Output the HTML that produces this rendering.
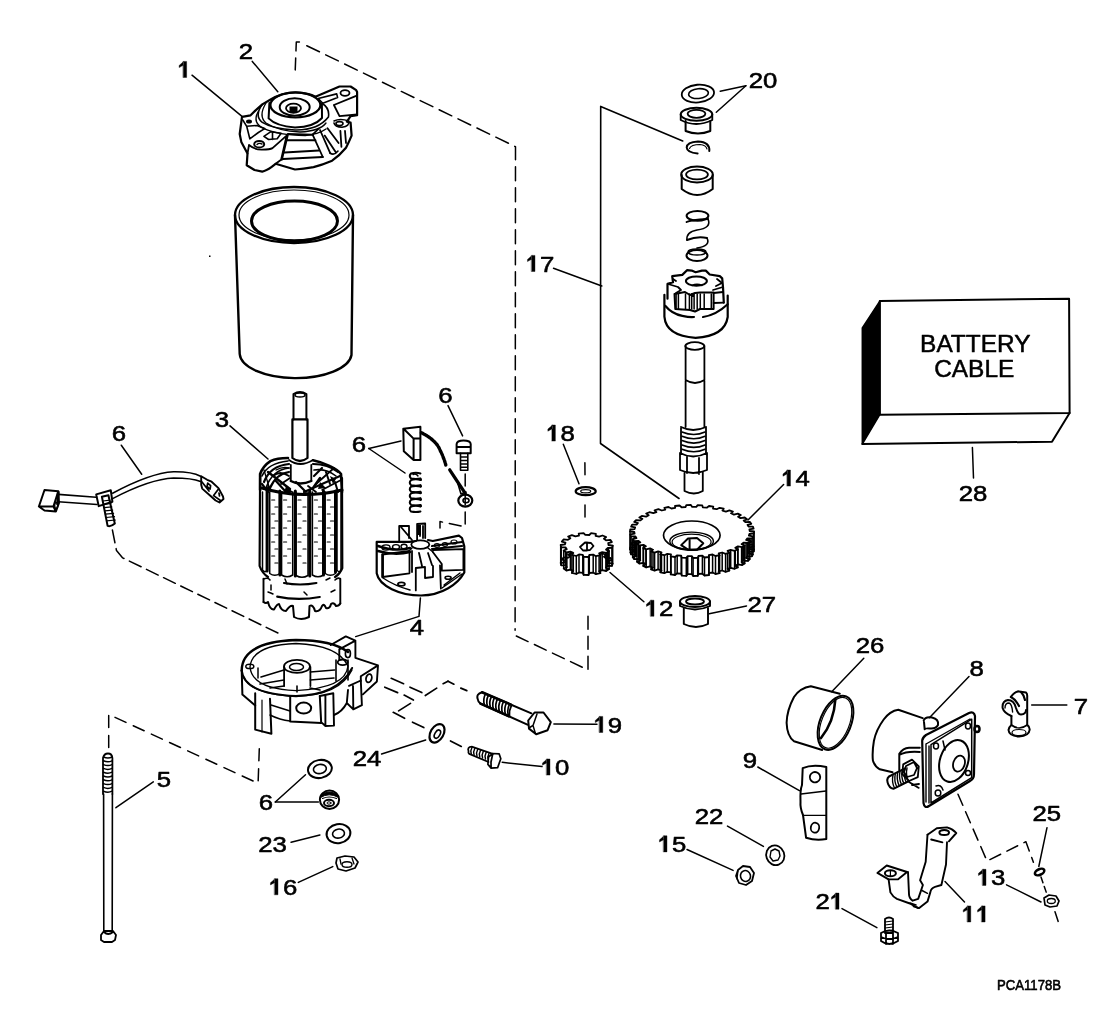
<!DOCTYPE html>
<html><head><meta charset="utf-8"><style>
html,body{margin:0;padding:0;background:#fff;width:1114px;height:1024px;overflow:hidden}
svg{position:absolute;left:0;top:0;font-family:"Liberation Sans",sans-serif;will-change:transform}
</style></head><body>
<svg width="1114" height="1024" viewBox="0 0 1114 1024">
<rect width="1114" height="1024" fill="#fff"/>
<g stroke="#000" fill="none" stroke-linecap="round" stroke-linejoin="round">
<g transform="translate(184.5,78) scale(1.12,1)"><path d="M-1.09,-16.6 L1.91,-16.6 L1.91,-0.5 L-1.09,-0.5 Z M-0.79,-16.4 L-4.79,-12.6 L-4.79,-10.4 L-0.79,-12.9 Z" fill="#000" stroke="#000" stroke-width="0.36"/></g>
<g transform="translate(246,59) scale(1.12,1)"><text x="-6.39" y="-0.5" font-size="23" stroke="#000" stroke-width="0.6" fill="#000">2</text></g>
<g transform="translate(540,272) scale(1.12,1)"><path d="M-7.49,-16.6 L-4.49,-16.6 L-4.49,-0.5 L-7.49,-0.5 Z M-7.19,-16.4 L-11.19,-12.6 L-11.19,-10.4 L-7.19,-12.9 Z" fill="#000" stroke="#000" stroke-width="0.36"/><text x="0.00" y="-0.5" font-size="23" stroke="#000" stroke-width="0.6" fill="#000">7</text></g>
<g transform="translate(763,88.6) scale(1.12,1)"><text x="-12.79" y="-0.5" font-size="23" stroke="#000" stroke-width="0.6" fill="#000">2</text><text x="0.00" y="-0.5" font-size="23" stroke="#000" stroke-width="0.6" fill="#000">0</text></g>
<g transform="translate(795.5,486.6) scale(1.12,1)"><path d="M-7.49,-16.6 L-4.49,-16.6 L-4.49,-0.5 L-7.49,-0.5 Z M-7.19,-16.4 L-11.19,-12.6 L-11.19,-10.4 L-7.19,-12.9 Z" fill="#000" stroke="#000" stroke-width="0.36"/><text x="0.00" y="-0.5" font-size="23" stroke="#000" stroke-width="0.6" fill="#000">4</text></g>
<g transform="translate(560.4,441.6) scale(1.12,1)"><path d="M-7.49,-16.6 L-4.49,-16.6 L-4.49,-0.5 L-7.49,-0.5 Z M-7.19,-16.4 L-11.19,-12.6 L-11.19,-10.4 L-7.19,-12.9 Z" fill="#000" stroke="#000" stroke-width="0.36"/><text x="0.00" y="-0.5" font-size="23" stroke="#000" stroke-width="0.6" fill="#000">8</text></g>
<g transform="translate(659,616.8) scale(1.12,1)"><path d="M-7.49,-16.6 L-4.49,-16.6 L-4.49,-0.5 L-7.49,-0.5 Z M-7.19,-16.4 L-11.19,-12.6 L-11.19,-10.4 L-7.19,-12.9 Z" fill="#000" stroke="#000" stroke-width="0.36"/><text x="0.00" y="-0.5" font-size="23" stroke="#000" stroke-width="0.6" fill="#000">2</text></g>
<g transform="translate(761.7,612.2) scale(1.12,1)"><text x="-12.79" y="-0.5" font-size="23" stroke="#000" stroke-width="0.6" fill="#000">2</text><text x="0.00" y="-0.5" font-size="23" stroke="#000" stroke-width="0.6" fill="#000">7</text></g>
<g transform="translate(973,501.4) scale(1.12,1)"><text x="-12.79" y="-0.5" font-size="23" stroke="#000" stroke-width="0.6" fill="#000">2</text><text x="0.00" y="-0.5" font-size="23" stroke="#000" stroke-width="0.6" fill="#000">8</text></g>
<g transform="translate(870,653.6) scale(1.12,1)"><text x="-12.79" y="-0.5" font-size="23" stroke="#000" stroke-width="0.6" fill="#000">2</text><text x="0.00" y="-0.5" font-size="23" stroke="#000" stroke-width="0.6" fill="#000">6</text></g>
<g transform="translate(976.7,676.5) scale(1.12,1)"><text x="-6.39" y="-0.5" font-size="23" stroke="#000" stroke-width="0.6" fill="#000">8</text></g>
<g transform="translate(1081,714) scale(1.12,1)"><text x="-6.39" y="-0.5" font-size="23" stroke="#000" stroke-width="0.6" fill="#000">7</text></g>
<g transform="translate(750,768.2) scale(1.12,1)"><text x="-6.39" y="-0.5" font-size="23" stroke="#000" stroke-width="0.6" fill="#000">9</text></g>
<g transform="translate(709,824.3) scale(1.12,1)"><text x="-12.79" y="-0.5" font-size="23" stroke="#000" stroke-width="0.6" fill="#000">2</text><text x="0.00" y="-0.5" font-size="23" stroke="#000" stroke-width="0.6" fill="#000">2</text></g>
<g transform="translate(672,852.4) scale(1.12,1)"><path d="M-7.49,-16.6 L-4.49,-16.6 L-4.49,-0.5 L-7.49,-0.5 Z M-7.19,-16.4 L-11.19,-12.6 L-11.19,-10.4 L-7.19,-12.9 Z" fill="#000" stroke="#000" stroke-width="0.36"/><text x="0.00" y="-0.5" font-size="23" stroke="#000" stroke-width="0.6" fill="#000">5</text></g>
<g transform="translate(829.7,909.7) scale(1.12,1)"><text x="-12.79" y="-0.5" font-size="23" stroke="#000" stroke-width="0.6" fill="#000">2</text><path d="M5.30,-16.6 L8.30,-16.6 L8.30,-0.5 L5.30,-0.5 Z M5.60,-16.4 L1.60,-12.6 L1.60,-10.4 L5.60,-12.9 Z" fill="#000" stroke="#000" stroke-width="0.36"/></g>
<g transform="translate(1046.8,821.2) scale(1.12,1)"><text x="-12.79" y="-0.5" font-size="23" stroke="#000" stroke-width="0.6" fill="#000">2</text><text x="0.00" y="-0.5" font-size="23" stroke="#000" stroke-width="0.6" fill="#000">5</text></g>
<g transform="translate(991,885.9) scale(1.12,1)"><path d="M-7.49,-16.6 L-4.49,-16.6 L-4.49,-0.5 L-7.49,-0.5 Z M-7.19,-16.4 L-11.19,-12.6 L-11.19,-10.4 L-7.19,-12.9 Z" fill="#000" stroke="#000" stroke-width="0.36"/><text x="0.00" y="-0.5" font-size="23" stroke="#000" stroke-width="0.6" fill="#000">3</text></g>
<g transform="translate(975.8,922.5) scale(1.12,1)"><path d="M-7.49,-16.6 L-4.49,-16.6 L-4.49,-0.5 L-7.49,-0.5 Z M-7.19,-16.4 L-11.19,-12.6 L-11.19,-10.4 L-7.19,-12.9 Z" fill="#000" stroke="#000" stroke-width="0.36"/><path d="M5.30,-16.6 L8.30,-16.6 L8.30,-0.5 L5.30,-0.5 Z M5.60,-16.4 L1.60,-12.6 L1.60,-10.4 L5.60,-12.9 Z" fill="#000" stroke="#000" stroke-width="0.36"/></g>
<g transform="translate(119,441) scale(1.12,1)"><text x="-6.39" y="-0.5" font-size="23" stroke="#000" stroke-width="0.6" fill="#000">6</text></g>
<g transform="translate(222,427) scale(1.12,1)"><text x="-6.39" y="-0.5" font-size="23" stroke="#000" stroke-width="0.6" fill="#000">3</text></g>
<g transform="translate(359,452.3) scale(1.12,1)"><text x="-6.39" y="-0.5" font-size="23" stroke="#000" stroke-width="0.6" fill="#000">6</text></g>
<g transform="translate(445.4,403) scale(1.12,1)"><text x="-6.39" y="-0.5" font-size="23" stroke="#000" stroke-width="0.6" fill="#000">6</text></g>
<g transform="translate(417,635) scale(1.12,1)"><text x="-6.39" y="-0.5" font-size="23" stroke="#000" stroke-width="0.6" fill="#000">4</text></g>
<g transform="translate(367,766) scale(1.12,1)"><text x="-12.79" y="-0.5" font-size="23" stroke="#000" stroke-width="0.6" fill="#000">2</text><text x="0.00" y="-0.5" font-size="23" stroke="#000" stroke-width="0.6" fill="#000">4</text></g>
<g transform="translate(607.8,733) scale(1.12,1)"><path d="M-7.49,-16.6 L-4.49,-16.6 L-4.49,-0.5 L-7.49,-0.5 Z M-7.19,-16.4 L-11.19,-12.6 L-11.19,-10.4 L-7.19,-12.9 Z" fill="#000" stroke="#000" stroke-width="0.36"/><text x="0.00" y="-0.5" font-size="23" stroke="#000" stroke-width="0.6" fill="#000">9</text></g>
<g transform="translate(555,775.6) scale(1.12,1)"><path d="M-7.49,-16.6 L-4.49,-16.6 L-4.49,-0.5 L-7.49,-0.5 Z M-7.19,-16.4 L-11.19,-12.6 L-11.19,-10.4 L-7.19,-12.9 Z" fill="#000" stroke="#000" stroke-width="0.36"/><text x="0.00" y="-0.5" font-size="23" stroke="#000" stroke-width="0.6" fill="#000">0</text></g>
<g transform="translate(164,787.6) scale(1.12,1)"><text x="-6.39" y="-0.5" font-size="23" stroke="#000" stroke-width="0.6" fill="#000">5</text></g>
<g transform="translate(266,810.6) scale(1.12,1)"><text x="-6.39" y="-0.5" font-size="23" stroke="#000" stroke-width="0.6" fill="#000">6</text></g>
<g transform="translate(272.5,852.3) scale(1.12,1)"><text x="-12.79" y="-0.5" font-size="23" stroke="#000" stroke-width="0.6" fill="#000">2</text><text x="0.00" y="-0.5" font-size="23" stroke="#000" stroke-width="0.6" fill="#000">3</text></g>
<g transform="translate(283,895.3) scale(1.12,1)"><path d="M-7.49,-16.6 L-4.49,-16.6 L-4.49,-0.5 L-7.49,-0.5 Z M-7.19,-16.4 L-11.19,-12.6 L-11.19,-10.4 L-7.19,-12.9 Z" fill="#000" stroke="#000" stroke-width="0.36"/><text x="0.00" y="-0.5" font-size="23" stroke="#000" stroke-width="0.6" fill="#000">6</text></g>
<text x="997" y="989.8" font-size="14.5" stroke="#000" stroke-width="0.6" fill="#000" textLength="64" lengthAdjust="spacingAndGlyphs">PCA1178B</text>
<line x1="192" y1="75.2" x2="242.3" y2="116.7" stroke-width="1.5"/>
<line x1="252.3" y1="61.4" x2="277.8" y2="91.8" stroke-width="1.5"/>
<line x1="553.5" y1="268.3" x2="601.8" y2="286" stroke-width="1.5"/>
<line x1="745.9" y1="85.7" x2="720.2" y2="91.2" stroke-width="1.5"/>
<line x1="745.9" y1="85.7" x2="716.3" y2="112.3" stroke-width="1.5"/>
<line x1="783.6" y1="484.5" x2="748" y2="520" stroke-width="1.5"/>
<line x1="563.3" y1="444.3" x2="579" y2="483.8" stroke-width="1.5"/>
<line x1="610" y1="572.5" x2="643.9" y2="601.7" stroke-width="1.5"/>
<line x1="746.5" y1="605.9" x2="709.2" y2="613.8" stroke-width="1.5"/>
<line x1="972.4" y1="447.5" x2="973.5" y2="478" stroke-width="1.5"/>
<line x1="863.8" y1="658.2" x2="831.7" y2="691.7" stroke-width="1.5"/>
<line x1="969" y1="676.5" x2="929.4" y2="717.7" stroke-width="1.5"/>
<line x1="1066.8" y1="704.9" x2="1031.7" y2="704.9" stroke-width="1.5"/>
<line x1="757.8" y1="767" x2="799.4" y2="790.6" stroke-width="1.5"/>
<line x1="727.5" y1="826.1" x2="763.4" y2="846.4" stroke-width="1.5"/>
<line x1="687" y1="849.5" x2="733.1" y2="870.4" stroke-width="1.5"/>
<line x1="842" y1="908.6" x2="876.9" y2="927.7" stroke-width="1.5"/>
<line x1="1047" y1="827.7" x2="1038.8" y2="866.5" stroke-width="1.5"/>
<line x1="1006.5" y1="884.8" x2="1041" y2="902" stroke-width="1.5"/>
<line x1="964.5" y1="902" x2="945" y2="881.6" stroke-width="1.5"/>
<line x1="121.3" y1="445.2" x2="141.7" y2="474.3" stroke-width="1.5"/>
<line x1="230" y1="425.9" x2="268" y2="459" stroke-width="1.5"/>
<line x1="368.8" y1="448.5" x2="401" y2="441" stroke-width="1.5"/>
<line x1="368.8" y1="448.5" x2="405" y2="473" stroke-width="1.5"/>
<line x1="448" y1="405.6" x2="462.6" y2="435.9" stroke-width="1.5"/>
<line x1="553.9" y1="723.9" x2="597" y2="724.3" stroke-width="1.5"/>
<line x1="502.2" y1="762.3" x2="542" y2="766.6" stroke-width="1.5"/>
<line x1="381.6" y1="754" x2="425.7" y2="740" stroke-width="1.5"/>
<line x1="153.3" y1="781.9" x2="115.9" y2="807.7" stroke-width="1.5"/>
<line x1="275.3" y1="802" x2="305.5" y2="774.7" stroke-width="1.5"/>
<line x1="275.3" y1="802" x2="318.4" y2="802" stroke-width="1.5"/>
<line x1="291.1" y1="842.2" x2="319.9" y2="835" stroke-width="1.5"/>
<line x1="298.3" y1="882.4" x2="332.8" y2="866.6" stroke-width="1.5"/>
<polyline points="420.4,598 419,616.4 355.7,636.6" stroke-width="1.5" fill="none"/>
<polyline points="682.7,141 600.7,106.4 600.5,443.5 679,498.5" stroke-width="1.6" fill="none"/>
<polyline points="299.4,42 296.3,42 295,76" stroke-width="1.5" fill="none" stroke-dasharray="12 7"/>
<polyline points="306.8,45.7 515.5,146.7 515.1,630.2" stroke-width="1.5" fill="none" stroke-dasharray="14 7"/>
<polyline points="516.3,636 588,669.9 588,610.5" stroke-width="1.5" fill="none" stroke-dasharray="13 7"/>
<polyline points="584.9,462.7 585,475" stroke-width="1.5" fill="none" stroke-dasharray="12 7"/>
<polyline points="585,505 585,520" stroke-width="1.5" fill="none" stroke-dasharray="12 7"/>
<polyline points="112.4,530 116.5,550.6 122.7,557.9 282.7,635.3" stroke-width="1.5" fill="none" stroke-dasharray="13 6"/>
<polyline points="108.7,747.4 108.7,714.4 258.1,783.3 259.5,743" stroke-width="1.5" fill="none" stroke-dasharray="12 8"/>
<polyline points="465.2,474 465.2,526.8 440,521.6 440,528" stroke-width="1.5" fill="none" stroke-dasharray="12 7"/>
<line x1="391.2" y1="678.3" x2="403.6" y2="683.7" stroke-width="1.7"/>
<line x1="410" y1="687.2" x2="421.8" y2="692.6" stroke-width="1.7"/>
<line x1="425.3" y1="695.5" x2="436.7" y2="688.1" stroke-width="1.7"/>
<line x1="443.1" y1="683.7" x2="448" y2="681.2" stroke-width="1.7"/>
<line x1="448" y1="681.2" x2="453.9" y2="684.2" stroke-width="1.7"/>
<line x1="460.8" y1="688.1" x2="466.8" y2="690.6" stroke-width="1.7"/>
<line x1="384.8" y1="687.2" x2="397.6" y2="692.6" stroke-width="1.7"/>
<line x1="404.1" y1="695.1" x2="413.4" y2="700" stroke-width="1.7"/>
<line x1="398.6" y1="710.9" x2="410.5" y2="703.4" stroke-width="1.7"/>
<line x1="393.2" y1="712.3" x2="404.6" y2="718.3" stroke-width="1.7"/>
<line x1="412.5" y1="722.2" x2="423.8" y2="727.6" stroke-width="1.7"/>
<line x1="450.5" y1="741" x2="461.3" y2="746.4" stroke-width="1.7"/>
<polyline points="958,794.3 987,861 1025.9,841.7 1033.4,862.2" stroke-width="1.5" fill="none" stroke-dasharray="12 7"/>
<polyline points="1041,877 1047.4,895.6" stroke-width="1.5" fill="none" stroke-dasharray="6 4"/>
<polyline points="1055,911.7 1058.2,921.4" stroke-width="1.5" fill="none" stroke-dasharray="12 7"/>
<polygon points="879.8,301.1 862.3,328 862.3,444 879.8,414.7" stroke-width="1.5" fill="#000"/>
<polygon points="879.8,301.1 1069.1,298.7 1069.6,413.1 879.8,414.7" stroke-width="2" fill="none"/>
<polyline points="862.3,444 1052,441.7 1069.6,413.1" stroke-width="2" fill="none"/>
<g transform="translate(975.3,351.5) scale(1.04,1)"><text x="0" y="0" font-size="23.5" text-anchor="middle" stroke="#000" stroke-width="0.5" fill="#000">BATTERY</text></g>
<g transform="translate(974.2,377.2) scale(1.04,1)"><text x="0" y="0" font-size="23.5" text-anchor="middle" stroke="#000" stroke-width="0.5" fill="#000">CABLE</text></g>
<ellipse cx="294" cy="215" rx="59" ry="28" stroke-width="2.3" fill="none"/>
<ellipse cx="294" cy="215" rx="55" ry="25" stroke-width="1.2" fill="none"/>
<ellipse cx="294.5" cy="221" rx="43" ry="20" stroke-width="3" fill="none"/>
<path d="M235,215 L239.7,354 A56,25 0 0 0 351.5,355 L353,215" stroke-width="2.4" fill="none" />
<rect x="209" y="255.5" width="1.5" height="1.5" fill="#000" stroke="none"/>
<path d="M242,116.9 L250.6,115.3 L255.3,110.6 L262.3,104.4 L270.2,99.7 Q283,92 296,92.3 Q309,93 315.4,96.7 L339.5,86.5 L350.6,86.5 L356.2,90.2 L357.1,92 L357.1,115.2 L350.6,116.2 L346.9,121.7 L350.6,122.6 L351.6,135.6 Q349,142 346,147.7 Q340,155 332.1,160.7 Q322,165 313.5,167.1 Q303,169 295,169.5 L275.6,163.8 L271.7,166.9 Q266,171 262.3,171.6 L254.5,170 L246.7,165.3 L247.5,153.6 L241.3,141.9 L239.7,134 Z" stroke-width="2.2" fill="none" />
<ellipse cx="295.4" cy="105" rx="25" ry="12.5" stroke-width="2.2" fill="none"/>
<path d="M269.4,103 L268.6,118.4 Q276,126 295,127.5 Q314,127 322,118 L321.9,104" stroke-width="2" fill="none" />
<ellipse cx="294.7" cy="107" rx="15" ry="8.8" stroke-width="2" fill="none"/>
<ellipse cx="293.5" cy="108.3" rx="7.5" ry="4.6" stroke-width="1.8" fill="none"/>
<rect x="289.5" y="106.5" width="8" height="5.5" fill="#000" stroke="none"/>
<path d="M262.3,104.4 Q254,116 262.3,122.3 Q272,128.5 295,130 Q318,130.5 328.4,117.1 Q330,108 321.9,103.2" stroke-width="1.6" fill="none" />
<path d="M266,103 Q258,116 266,123 Q278,131 300,132 Q320,131 326,123" stroke-width="1.3" fill="none" />
<path d="M258,112 Q252,123 264,128.6 Q278,135 305.3,135.5 Q318,134.5 326,129" stroke-width="1.4" fill="none" />
<path d="M242.8,120 L246.7,126.3 L256.9,125.5 L264.7,128.6 L258.4,132.5 L249.8,138.8 M246.7,126.3 L249.8,138.8" stroke-width="1.6" fill="none" />
<ellipse cx="249" cy="121.6" rx="3" ry="2" fill="#000" stroke="none"/>
<path d="M249,145 Q255,150 262.3,149.7 Q270,149.5 272.5,148.1 L286.6,135.6 M286.6,135.6 L281.1,159.8 L275.6,163.8 M249,145 L247.5,153.6" stroke-width="1.8" fill="none" />
<ellipse cx="259.2" cy="144.2" rx="5" ry="3.3" stroke-width="2" fill="none"/>
<path d="M257,144.5 Q259,142.5 262,144" stroke-width="1.4" fill="none" />
<path d="M263.9,136.4 L270.9,131.7 L281.1,133.3 L277.2,138.8 L268.6,139.5 Z M272.5,132 L272.5,139.5" stroke-width="1.6" fill="none" />
<path d="M288.1,134 L312.6,134.7 M287,140.3 L315.4,140.3 M284.5,152.5 L319.1,150.5 M283,159 L322.8,157" stroke-width="2" fill="none" />
<path d="M288.1,134 L281.9,159.8" stroke-width="1.8" fill="none" />
<path d="M318.2,98.5 L336.7,93.9 L337.6,97.6 L322.8,103.2 Z" stroke-width="1.6" fill="none" />
<ellipse cx="345" cy="93" rx="4.5" ry="2.8" stroke-width="1.8" fill="none"/>
<path d="M333.9,105 L356.2,95.8 M333.9,105 L339.5,116.2 L357.1,114.5" stroke-width="1.8" fill="none" />
<path d="M334,121 Q340,118 348.8,121 Q350,126 342,127.3 Q335,127 334,123" stroke-width="1.6" fill="none" />
<ellipse cx="339.5" cy="123.6" rx="3.5" ry="2" stroke-width="1.6" fill="none"/>
<line x1="312.6" y1="134.7" x2="322.8" y2="157" stroke-width="1.8"/>
<line x1="320" y1="130" x2="330.2" y2="153.2" stroke-width="1.8"/>
<line x1="324.7" y1="135.6" x2="335.8" y2="152.3" stroke-width="1.8"/>
<line x1="327.5" y1="128.2" x2="338.6" y2="143" stroke-width="1.8"/>
<line x1="340.4" y1="131" x2="341.4" y2="146.8" stroke-width="1.8"/>
<line x1="345" y1="131" x2="346" y2="143" stroke-width="1.8"/>
<line x1="318.2" y1="129.1" x2="312.6" y2="134.7" stroke-width="1.8"/>
<path d="M330,153 Q334,156 338,151" stroke-width="1.6" fill="none" />
<path d="M293.5,419.4 L293.5,394 Q300,390 306.4,394 L306.4,419.4" stroke-width="2" fill="none" />
<ellipse cx="300" cy="395" rx="5" ry="2" stroke-width="1.5" fill="none"/>
<path d="M292.4,419.4 L307.5,419.4 M292.4,419.4 L292.4,458 Q300,464 307.5,458 L307.5,419.4" stroke-width="2.2" fill="none" />
<path d="M290.8,465 L290.8,481 M311.3,465 L311.3,481 M289,460 Q300,468 313,460" stroke-width="1.8" fill="none" />
<path d="M260.1,490 L260.1,474 Q263,466 270.4,461.1 Q277,458 288,458 M313,460.2 Q322,462 330,466.2 Q338,470 341,474 L342,492" stroke-width="2.6" fill="none" />
<path d="M262,476 Q268,463 288,461" stroke-width="1.6" fill="none" />
<path d="M264,482 Q270,466 289,464" stroke-width="2.2" fill="none" />
<path d="M266,488 Q272,470 289,468" stroke-width="1.6" fill="none" />
<path d="M270,488 Q276,474 289,472" stroke-width="2.2" fill="none" />
<path d="M273,476 Q280,470 289,476" stroke-width="1.8" fill="none" />
<path d="M276,470 Q283,466 289,468" stroke-width="1.4" fill="none" />
<path d="M268,472 L290,489" stroke-width="2.4" fill="none" />
<path d="M275,480 L286,492" stroke-width="2.2" fill="none" />
<path d="M262,484 L268,492" stroke-width="2.2" fill="none" />
<path d="M281,484 L290,478" stroke-width="1.8" fill="none" />
<path d="M264,470 L270,490" stroke-width="1.3" fill="none" />
<path d="M313,464 Q328,464 338,472" stroke-width="2.2" fill="none" />
<path d="M314,470 Q326,468 336,476" stroke-width="1.6" fill="none" />
<path d="M314,476 L322,468" stroke-width="2.2" fill="none" />
<path d="M316,484 L334,468" stroke-width="1.8" fill="none" />
<path d="M304,492 L340,476" stroke-width="2.2" fill="none" />
<path d="M322,490 L341,480" stroke-width="1.6" fill="none" />
<path d="M313,488 L320,478" stroke-width="2.4" fill="none" />
<path d="M326,472 L330,484" stroke-width="2.0" fill="none" />
<path d="M335,482 L338,492" stroke-width="2.0" fill="none" />
<path d="M308,486 L316,492" stroke-width="1.8" fill="none" />
<path d="M296,482 L306,492" stroke-width="2.2" fill="none" />
<path d="M290.8,481 Q300,486 311.3,481" stroke-width="2.4" fill="none" />
<path d="M262,488 Q300,500 342,490" stroke-width="3" fill="none" />
<path d="M268,484 L272,490 L266,491 Z M320,482 L326,488 L318,489 Z M286,486 L293,492 L284,493 Z M330,476 L336,479 L333,484 Z" fill="#000" stroke="none"/>
<path d="M260.1,474 L259.6,566 Q262,573 268,577 M342,478 L342.3,568 Q340,574 335,577" stroke-width="2.2" fill="none" />
<path d="M262.5,492 L262.5,570 Q265.0,573.5 267.5,570 L267.5,492" stroke-width="1.5" fill="none" />
<path d="M269.7,492 L269.7,573.5 Q274.79999999999995,577.0 279.9,573.5 L279.9,492" stroke-width="1.5" fill="none" />
<path d="M281.6,492 L281.6,575 Q287.15,578.5 292.7,575 L292.7,492" stroke-width="1.5" fill="none" />
<path d="M296,492 L296,575.5 Q302.0,579.0 308,575.5 L308,492" stroke-width="1.5" fill="none" />
<path d="M312.4,492 L312.4,575 Q317.95,578.5 323.5,575 L323.5,492" stroke-width="1.5" fill="none" />
<path d="M325.2,492 L325.2,573.5 Q330.35,577.0 335.5,573.5 L335.5,492" stroke-width="1.5" fill="none" />
<path d="M337,492 L337,570 Q339.0,573.5 341,570 L341,492" stroke-width="1.5" fill="none" />
<line x1="267.1" y1="491" x2="267.1" y2="571" stroke-width="3.0"/>
<line x1="279.9" y1="491" x2="279.9" y2="575" stroke-width="3.0"/>
<line x1="295.3" y1="491" x2="295.3" y2="576" stroke-width="3.0"/>
<line x1="309.8" y1="491" x2="309.8" y2="576" stroke-width="3.0"/>
<line x1="323.5" y1="491" x2="323.5" y2="575" stroke-width="3.0"/>
<line x1="335.5" y1="491" x2="335.5" y2="572" stroke-width="3.0"/>
<line x1="271.7" y1="500" x2="274.7" y2="500" stroke-width="1.2"/>
<line x1="274.9" y1="507" x2="277.9" y2="507" stroke-width="1.2"/>
<line x1="271.7" y1="514" x2="274.7" y2="514" stroke-width="1.2"/>
<line x1="274.9" y1="521" x2="277.9" y2="521" stroke-width="1.2"/>
<line x1="271.7" y1="528" x2="274.7" y2="528" stroke-width="1.2"/>
<line x1="274.9" y1="535" x2="277.9" y2="535" stroke-width="1.2"/>
<line x1="271.7" y1="542" x2="274.7" y2="542" stroke-width="1.2"/>
<line x1="274.9" y1="549" x2="277.9" y2="549" stroke-width="1.2"/>
<line x1="271.7" y1="556" x2="274.7" y2="556" stroke-width="1.2"/>
<line x1="274.9" y1="563" x2="277.9" y2="563" stroke-width="1.2"/>
<line x1="283.6" y1="500" x2="286.6" y2="500" stroke-width="1.2"/>
<line x1="287.7" y1="507" x2="290.7" y2="507" stroke-width="1.2"/>
<line x1="283.6" y1="514" x2="286.6" y2="514" stroke-width="1.2"/>
<line x1="287.7" y1="521" x2="290.7" y2="521" stroke-width="1.2"/>
<line x1="283.6" y1="528" x2="286.6" y2="528" stroke-width="1.2"/>
<line x1="287.7" y1="535" x2="290.7" y2="535" stroke-width="1.2"/>
<line x1="283.6" y1="542" x2="286.6" y2="542" stroke-width="1.2"/>
<line x1="287.7" y1="549" x2="290.7" y2="549" stroke-width="1.2"/>
<line x1="283.6" y1="556" x2="286.6" y2="556" stroke-width="1.2"/>
<line x1="287.7" y1="563" x2="290.7" y2="563" stroke-width="1.2"/>
<line x1="298" y1="500" x2="301" y2="500" stroke-width="1.2"/>
<line x1="303" y1="507" x2="306" y2="507" stroke-width="1.2"/>
<line x1="298" y1="514" x2="301" y2="514" stroke-width="1.2"/>
<line x1="303" y1="521" x2="306" y2="521" stroke-width="1.2"/>
<line x1="298" y1="528" x2="301" y2="528" stroke-width="1.2"/>
<line x1="303" y1="535" x2="306" y2="535" stroke-width="1.2"/>
<line x1="298" y1="542" x2="301" y2="542" stroke-width="1.2"/>
<line x1="303" y1="549" x2="306" y2="549" stroke-width="1.2"/>
<line x1="298" y1="556" x2="301" y2="556" stroke-width="1.2"/>
<line x1="303" y1="563" x2="306" y2="563" stroke-width="1.2"/>
<line x1="314.4" y1="500" x2="317.4" y2="500" stroke-width="1.2"/>
<line x1="318.5" y1="507" x2="321.5" y2="507" stroke-width="1.2"/>
<line x1="314.4" y1="514" x2="317.4" y2="514" stroke-width="1.2"/>
<line x1="318.5" y1="521" x2="321.5" y2="521" stroke-width="1.2"/>
<line x1="314.4" y1="528" x2="317.4" y2="528" stroke-width="1.2"/>
<line x1="318.5" y1="535" x2="321.5" y2="535" stroke-width="1.2"/>
<line x1="314.4" y1="542" x2="317.4" y2="542" stroke-width="1.2"/>
<line x1="318.5" y1="549" x2="321.5" y2="549" stroke-width="1.2"/>
<line x1="314.4" y1="556" x2="317.4" y2="556" stroke-width="1.2"/>
<line x1="318.5" y1="563" x2="321.5" y2="563" stroke-width="1.2"/>
<line x1="327.2" y1="500" x2="330.2" y2="500" stroke-width="1.2"/>
<line x1="330.5" y1="507" x2="333.5" y2="507" stroke-width="1.2"/>
<line x1="327.2" y1="514" x2="330.2" y2="514" stroke-width="1.2"/>
<line x1="330.5" y1="521" x2="333.5" y2="521" stroke-width="1.2"/>
<line x1="327.2" y1="528" x2="330.2" y2="528" stroke-width="1.2"/>
<line x1="330.5" y1="535" x2="333.5" y2="535" stroke-width="1.2"/>
<line x1="327.2" y1="542" x2="330.2" y2="542" stroke-width="1.2"/>
<line x1="330.5" y1="549" x2="333.5" y2="549" stroke-width="1.2"/>
<line x1="327.2" y1="556" x2="330.2" y2="556" stroke-width="1.2"/>
<line x1="330.5" y1="563" x2="333.5" y2="563" stroke-width="1.2"/>
<path d="M263.5,578.8 L263.5,602 M340.3,578.8 L340.3,603.5" stroke-width="1.9" fill="none" />
<path d="M263.5,579 Q268,577 270,580 M335,580 Q338,577 340.3,579" stroke-width="1.6" fill="none" />
<path d="M284,583 Q300,586 316.4,583" stroke-width="2.2" fill="none" />
<path d="M277.2,596.7 Q298,601 319.8,597" stroke-width="2.2" fill="none" />
<path d="M263.5,602 Q266,604 268,602 Q270,610 274,609.5 Q277,604 279,604 Q281,611 286,611 Q290,605 293,606 L294,617 Q301,621 309,617 L309.5,606 Q313,604 315,611 Q320,612 322,606 Q324,603 326,608 Q330,609 331,604 Q334,602 336,606 Q339,606 340.3,603.5" stroke-width="2" fill="none" />
<path d="M271,585 L271,590 M268,592 Q271,593 273,594 M304,592 L307,595 M331,592 L335,590 M326,580 L330,578 M285,579 L287,584" stroke-width="1.5" fill="none" />
<path d="M416,541 L409.5,541.9 L376.7,541.9 L376.7,573.3 C379,586 400,595.5 421,595.5 C442,595.5 458,584 464.3,572.5 L464.3,546.4 L462,538 L458.9,535.6 L432.8,541 L428,540" stroke-width="2.2" fill="none" />
<path d="M378,546 Q395,552 410,548 M378,551 Q395,556 410,552" stroke-width="2.4" fill="none" />
<ellipse cx="386" cy="547.5" rx="4" ry="2.6" stroke-width="1.4" fill="none"/>
<ellipse cx="396" cy="547" rx="3.5" ry="2.4" stroke-width="1.4" fill="none"/>
<ellipse cx="404" cy="546.5" rx="3" ry="2.2" stroke-width="1.4" fill="none"/>
<path d="M432,546 L462,542 M432,549 L462,546" stroke-width="2.2" fill="none" />
<ellipse cx="437" cy="545.5" rx="2.5" ry="1.8" stroke-width="1.2" fill="none"/>
<ellipse cx="445" cy="544.5" rx="2.5" ry="1.8" stroke-width="1.2" fill="none"/>
<ellipse cx="454" cy="542" rx="3" ry="2" stroke-width="1.2" fill="none"/>
<ellipse cx="420.3" cy="544.6" rx="9" ry="4.3" stroke-width="1.8" fill="none"/>
<path d="M399.2,541.9 L399.2,526 L409,525.8 L409,538 M401,527 L412,540 M417.1,540 L417.1,524 L425.2,523.5 L425.2,538 M420,527 L420,536 M423,526 L423,538" stroke-width="1.8" fill="none" />
<rect x="418" y="525" width="3" height="10" fill="#000" stroke="none"/>
<path d="M412,548 L409,551 M428,548 L433,552" stroke-width="1.5" fill="none" />
<path d="M382.6,554.5 L409.5,550.9 L409.5,573.3 L382.6,577 Z" stroke-width="1.8" fill="none" />
<line x1="382.6" y1="554.5" x2="382.6" y2="577" stroke-width="2.6"/>
<path d="M432.8,550 L463.4,549.1 L463.4,569.8 L441.8,570.7 L441.8,564 L432.8,552" stroke-width="1.8" fill="none" />
<path d="M412,551 L412,572 M415.8,568 L415.8,590.4 M440,565.3 L440.9,588.6 M415.8,568 L425,567 L425,578 L433,577 L433,566 M419,553 L422,566 M428,553 L432,565" stroke-width="1.8" fill="none" />
<path d="M383,578 Q395,586 410,590 M442,588 L462,574 M444,585 L460,573" stroke-width="1.4" fill="none" />
<ellipse cx="448.1" cy="577.8" rx="3" ry="1.5" stroke-width="1.6" fill="none"/>
<ellipse cx="401.4" cy="584.1" rx="3.5" ry="1.8" stroke-width="1.8" fill="none"/>
<path d="M403.3,428.8 L420.4,426.8 L420.4,460 L413.6,460 L403.8,451.3 Z M403.8,429 L413.6,438.6 L420.4,438.6 M413.6,438.6 L413.6,460" stroke-width="2" fill="none" />
<path d="M421.4,432.7 Q436,440 440,450 Q444,458 445.8,465" stroke-width="3.4" fill="none" stroke-dasharray="2.5 1.2"/>
<path d="M449.7,469.8 L459,484 L465.3,493.3" stroke-width="3.2" fill="none" />
<path d="M458,484 L461,494 L466,492" stroke-width="1.6" fill="none" />
<ellipse cx="465.3" cy="500.6" rx="7" ry="6" stroke-width="2.2" fill="none"/>
<ellipse cx="466" cy="500.6" rx="3" ry="2.2" stroke-width="1.6" fill="none"/>
<path d="M420.5,473.5 Q416,472.0 411,473.5 Q408.5,476.0 411,478.5 Q416,479.5 420.5,478.5" stroke-width="1.9" fill="none" />
<path d="M420.5,478.5 Q422,480.0 420.5,480.1" stroke-width="1.6" fill="none" />
<path d="M420.5,480.1 Q416,478.6 411,480.1 Q408.5,482.6 411,485.1 Q416,486.1 420.5,485.1" stroke-width="1.9" fill="none" />
<path d="M420.5,485.1 Q422,486.6 420.5,486.7" stroke-width="1.6" fill="none" />
<path d="M420.5,486.7 Q416,485.2 411,486.7 Q408.5,489.2 411,491.7 Q416,492.7 420.5,491.7" stroke-width="1.9" fill="none" />
<path d="M420.5,491.7 Q422,493.2 420.5,493.3" stroke-width="1.6" fill="none" />
<path d="M420.5,493.3 Q416,491.8 411,493.3 Q408.5,495.8 411,498.3 Q416,499.3 420.5,498.3" stroke-width="1.9" fill="none" />
<path d="M420.5,498.3 Q422,499.8 420.5,499.9" stroke-width="1.6" fill="none" />
<path d="M420.5,499.9 Q416,498.4 411,499.9 Q408.5,502.4 411,504.9 Q416,505.9 420.5,504.9" stroke-width="1.9" fill="none" />
<path d="M420.5,504.9 Q422,506.4 420.5,506.5" stroke-width="1.6" fill="none" />
<path d="M420.5,506.5 Q416,505.0 411,506.5 Q408.5,509.0 411,511.5 Q416,512.5 420.5,511.5" stroke-width="1.9" fill="none" />
<path d="M413,474.5 Q416,473 418,476" stroke-width="1.4" fill="none" />
<path d="M456.6,453.2 L456.6,444 Q457,440.5 463.5,440.5 Q470.5,440.5 470.7,444 L470.7,453.2 Z M456.6,447 L470.7,447" stroke-width="2" fill="none" />
<path d="M460.5,453.2 L460.5,470.3 L467.8,470.3 L467.8,453.2 M460.5,457 L467.8,457 M460.5,460.5 L467.8,460.5 M460.5,464 L467.8,464 M460.5,467.3 L467.8,467.3" stroke-width="1.6" fill="none" />
<path d="M38.9,506.5 L44.5,490 L58.3,491.2 L53.4,506.5 Z M58.3,491.2 L59,503 L55.9,511.4 L44.5,510.5 L38.9,506.5 M53.4,506.5 L55.9,511.4" stroke-width="2" fill="none" />
<line x1="58.3" y1="492" x2="57.5" y2="504" stroke-width="2.6"/>
<ellipse cx="56.2" cy="505.5" rx="1.5" ry="3" stroke-width="1.4" fill="none"/>
<path d="M58.3,494.4 L96.2,497.2 M58.3,501.7 L97,504.5" stroke-width="1.6" fill="none" />
<path d="M96.2,494.4 L110.8,490.3 L112.4,501.7 L98.7,506.1 Z" stroke-width="2" fill="none" />
<path d="M101.9,496.8 L108.4,495.2 L114.8,523.5 Q111,527 107.6,525.9 Z" stroke-width="2" fill="none" />
<line x1="103.0" y1="501.0" x2="110.0" y2="500.2" stroke-width="1.2"/>
<line x1="103.6" y1="504.3" x2="110.9" y2="503.5" stroke-width="1.2"/>
<line x1="104.2" y1="507.6" x2="111.8" y2="506.8" stroke-width="1.2"/>
<line x1="104.8" y1="510.9" x2="112.7" y2="510.09999999999997" stroke-width="1.2"/>
<line x1="105.4" y1="514.2" x2="113.6" y2="513.4000000000001" stroke-width="1.2"/>
<line x1="106.0" y1="517.5" x2="114.5" y2="516.7" stroke-width="1.2"/>
<line x1="106.6" y1="520.8" x2="115.4" y2="520.0" stroke-width="1.2"/>
<path d="M112.6,493.2 Q150,473 173.6,471.7 Q192,471.5 200.6,476.2 M112.6,498.6 Q150,479 173.6,478 Q192,478 200.6,481.5" stroke-width="1.6" fill="none" />
<path d="M201.2,476.3 L207.2,479.8 L211.6,481.7 L218.5,488.1 L223,496.5 L223.5,499 L219.5,502.5 L215.6,500.5 L210.6,496 L202.2,488.6 L201.2,484.7 Z" stroke-width="1.9" fill="none" />
<path d="M207.7,483.2 L210.6,485.7 L210.1,489.1 L207,486.5 Z M202,482 L209,491" stroke-width="1.7" fill="none" />
<path d="M218.5,489.1 L213.6,495.6 L220.5,500.5 M219,493 L219.5,496" stroke-width="1.7" fill="none" />
<path d="M241.7,670.4 Q242,642 296,640 Q332,640 348,652" stroke-width="2.4" fill="none" />
<path d="M241.7,670.4 Q244,694 296,696 Q338,695 352.1,668" stroke-width="2" fill="none" />
<path d="M250,667 Q252,645 296,643.5 Q338,645 348,666 Q346,688 296,690.6 Q252,689 250,667" stroke-width="1.4" fill="none" />
<path d="M241.7,670.4 L242.4,694.6 L255.2,705.4" stroke-width="2" fill="none" />
<path d="M255.2,693.3 L255.2,729.6 L271.4,733.7 L270,698.7" stroke-width="2" fill="none" />
<path d="M262,700 L262,732" stroke-width="1.2" fill="none" />
<path d="M290.2,696 L290.2,721.6 L321.2,722.9 L319.8,696" stroke-width="2" fill="none" />
<ellipse cx="303.7" cy="708.1" rx="7.5" ry="5.5" stroke-width="2" fill="none"/>
<path d="M270,715 Q280,720 290,721 M271,705 L290,711" stroke-width="1.5" fill="none" />
<path d="M319.8,696 L333.3,693.3 L334,725.6 L325.4,726 L322,722.9 M325.4,695 L325.4,726" stroke-width="1.9" fill="none" />
<path d="M349,685.8 L360.8,680.5 L361.9,705.2 L353.3,709.4 L346.8,703 M353,686 L353.3,709.4 M334,715 Q342,712 346.8,703 L348,690" stroke-width="1.9" fill="none" />
<path d="M330.7,645 L345.8,636.4 L355.4,640.7 L355.4,657.9 M339.3,649.3 L355.4,640.7 M339.3,649.3 L339.3,660 M355.4,657.9 L378,665.4 L376.9,681.5 L362.9,694.4 M360.8,676.2 L378,665.4 M360.8,676.2 L360.8,681" stroke-width="1.9" fill="none" />
<ellipse cx="368.9" cy="678.3" rx="2.8" ry="4.2" stroke-width="1.8" fill="none" transform="rotate(15 368.9 678.3)"/>
<ellipse cx="347.9" cy="653.6" rx="2.5" ry="4" stroke-width="1.7" fill="none"/>
<ellipse cx="297" cy="666.4" rx="13" ry="6.5" stroke-width="1.8" fill="none"/>
<ellipse cx="296.5" cy="667" rx="7" ry="3.5" stroke-width="1.5" fill="none"/>
<path d="M284.1,667 L284.1,686 M310.4,667 L310.4,686" stroke-width="1.8" fill="none" />
<path d="M261,677 L284,670 M260,684 L284,680 M310.4,672 L334.6,670 M310.4,680 L334,678 M270,688 L284,686 M297,686 L297,692 M310,688 L320,690" stroke-width="1.6" fill="none" />
<path d="M336,660 L336,681 M348,660 L348,680" stroke-width="1.6" fill="none" />
<ellipse cx="342.7" cy="662.3" rx="5" ry="2.8" stroke-width="1.8" fill="none"/>
<ellipse cx="249.8" cy="666.4" rx="4" ry="2.2" stroke-width="1.5" fill="none"/>
<path d="M258,668 L258,678" stroke-width="1.5" fill="none" />
<ellipse cx="697.9" cy="93.6" rx="16.2" ry="8.9" stroke-width="1.8" fill="none" transform="rotate(-5 697.9 93.6)"/>
<ellipse cx="698.5" cy="93.6" rx="9.9" ry="4.9" stroke-width="1.6" fill="none" transform="rotate(-5 698.5 93.6)"/>
<path d="M680.7,114.3 L680.7,120 Q696,128 712.3,120 L712.3,114.3" stroke-width="1.8" fill="none" />
<ellipse cx="696.5" cy="114.3" rx="15.8" ry="6.5" stroke-width="2" fill="none"/>
<ellipse cx="696.5" cy="113.8" rx="8.9" ry="4" stroke-width="1.8" fill="none"/>
<path d="M685.6,121 L685.6,131 Q698,136 710.3,131 L710.3,121" stroke-width="2" fill="none" />
<path d="M709.3,151 Q710,142 698,141.5 Q687,142 686.7,147.5 Q687,152.5 697.6,153.5" stroke-width="2" fill="none" />
<path d="M689.5,148.5 Q691,144.5 700,144.5 Q706,145 707,149" stroke-width="1.1" fill="none" />
<ellipse cx="697" cy="174.5" rx="15.8" ry="7.9" stroke-width="2" fill="none"/>
<ellipse cx="697" cy="174.5" rx="10.9" ry="4.9" stroke-width="1.8" fill="none"/>
<path d="M681.7,175 L681.7,189 Q697,201 712.7,189 L712.7,175" stroke-width="2" fill="none" />
<ellipse cx="697.5" cy="215.8" rx="10.9" ry="4.9" stroke-width="2" fill="none"/>
<path d="M686.6,222 Q690,220 708,219 M687,240 Q697,236 707,238" stroke-width="2" fill="none" />
<path d="M708,219 Q712,228 697,230 Q686,232 687,240 M707,238 Q711,246 697,248" stroke-width="1.6" fill="none" />
<ellipse cx="697" cy="255.5" rx="10.5" ry="5.5" stroke-width="2" fill="none"/>
<ellipse cx="697" cy="252" rx="9" ry="3" stroke-width="1.4" fill="none"/>
<path d="M667.5,298.7 L667.5,283.9 L673,282.3 L672.2,276.1 L682.3,274.9 L687,270.2 L691.7,270.6 L695.6,272.2 L701.9,270.6 L705.8,270.6 L709.7,274.5 L719.8,276.1 L722.2,278.4 L723,287 L723.8,302.6" stroke-width="2.2" fill="none" />
<ellipse cx="696.4" cy="281.1" rx="10.5" ry="4.7" stroke-width="2" fill="none"/>
<path d="M692,285.5 Q697,283 702,285.5" stroke-width="1.6" fill="none" />
<path d="M668,284 L678,287 L681,290 L676,293 M673,279 L676,281 M717,279 L722,283 L716,286 M713,290 L723,287" stroke-width="1.8" fill="none" />
<path d="M674.5,294 L685,292 L690,295 L695,293 L700,292.5 L713.6,292.5 L713.6,308.9 L700,309 L695,311.5 L690,310 L675.3,308.9 Z" stroke-width="2" fill="none" />
<line x1="676.1" y1="294" x2="676.1" y2="309" stroke-width="1.5"/>
<line x1="678.4" y1="294" x2="678.4" y2="309" stroke-width="1.5"/>
<line x1="685.5" y1="294" x2="685.5" y2="309" stroke-width="1.5"/>
<line x1="689.4" y1="294" x2="689.4" y2="309" stroke-width="1.5"/>
<line x1="691.7" y1="294" x2="691.7" y2="309" stroke-width="1.5"/>
<line x1="694.1" y1="294" x2="694.1" y2="309" stroke-width="1.5"/>
<line x1="697.2" y1="294" x2="697.2" y2="309" stroke-width="1.5"/>
<line x1="700.3" y1="294" x2="700.3" y2="309" stroke-width="1.5"/>
<line x1="704.2" y1="294" x2="704.2" y2="309" stroke-width="1.5"/>
<line x1="711.3" y1="294" x2="711.3" y2="309" stroke-width="1.5"/>
<rect x="691.5" y="293" width="2.5" height="4" fill="#000" stroke="none"/>
<path d="M713.6,293 L723,292 M713.6,303 L723.8,302.6" stroke-width="1.8" fill="none" />
<path d="M664.4,294.8 L664.4,316.7 Q666,336 695.6,337.8 Q725,336 727.7,317 L727.7,295.6" stroke-width="2.2" fill="none" />
<path d="M665.2,305.8 Q672,314 682.3,315.9 Q690,317.5 694,317 M703,317 Q716,315 727.7,304.2" stroke-width="2.2" fill="none" />
<ellipse cx="694.8" cy="346" rx="9.5" ry="3.8" stroke-width="1.8" fill="none"/>
<path d="M685.6,346 L685.6,427 M704.4,346 L704.4,427 M685.6,380 Q695,386 704.4,380" stroke-width="1.8" fill="none" />
<path d="M681,427 L681,453 M706,427 L706,453 M681,427 Q693,433 706,427" stroke-width="1.8" fill="none" />
<path d="M682,432.0 Q694,437.0 705,432.0" stroke-width="1.6" fill="none" />
<path d="M682,436.3 Q694,441.3 705,436.3" stroke-width="1.6" fill="none" />
<path d="M682,440.6 Q694,445.6 705,440.6" stroke-width="1.6" fill="none" />
<path d="M682,444.9 Q694,449.9 705,444.9" stroke-width="1.6" fill="none" />
<path d="M682,449.2 Q694,454.2 705,449.2" stroke-width="1.6" fill="none" />
<path d="M680,453 Q693,460 707,453 L707,470 Q693,476 680,470 Z M687,457 L687,473 M699,458 L699,474" stroke-width="1.8" fill="none" />
<path d="M684.5,473 L684.5,491 Q694,496 702.8,491 L702.8,472" stroke-width="1.8" fill="none" />
<path d="M754.0,549.5 L753.8,551.5 L749.4,551.9 L748.9,553.6 L752.9,554.4 L751.9,556.3 L747.4,556.3 L746.1,558.0 L749.8,559.1 L748.0,560.9 L743.5,560.6 L741.6,562.1 L744.7,563.5 L742.2,565.1 L737.9,564.4 L735.3,565.8 L737.8,567.4 L734.6,568.8 L730.7,567.8 L727.6,568.9 L729.4,570.6 L725.6,571.8 L722.2,570.5 L718.7,571.4 L719.6,573.2 L715.5,574.0 L712.6,572.5 L708.8,573.1 L709.0,575.0 L704.5,575.5 L702.4,573.7 L698.4,574.0 L697.7,575.9 L693.1,576.0 L691.8,574.1 L687.7,574.1 L686.3,575.9 L681.7,575.6 L681.2,573.7 L677.2,573.3 L675.0,575.0 L670.7,574.4 L671.0,572.4 L667.3,571.8 L664.4,573.2 L660.3,572.3 L661.5,570.4 L658.1,569.4 L654.6,570.6 L651.1,569.4 L653.0,567.7 L650.1,566.4 L646.2,567.4 L643.2,565.9 L645.9,564.3 L643.5,562.9 L639.3,563.5 L637.0,561.7 L640.3,560.4 L638.6,558.8 L634.2,559.1 L632.7,557.2 L636.5,556.2 L635.5,554.5 L631.1,554.4 L630.4,552.4 L634.6,551.7 L634.3,550.0 L630.0,549.5 L630.2,547.5 L634.6,547.1 L635.1,545.4 L631.1,544.6 L632.1,542.7 L636.6,542.7 L637.9,541.0 L634.2,539.9 L636.0,538.1 L640.5,538.4 L642.4,536.9 L639.3,535.5 L641.8,533.9 L646.1,534.6 L648.7,533.2 L646.2,531.6 L649.4,530.2 L653.3,531.2 L656.4,530.1 L654.6,528.4 L658.4,527.2 L661.8,528.5 L665.3,527.6 L664.4,525.8 L668.5,525.0 L671.4,526.5 L675.2,525.9 L675.0,524.0 L679.5,523.5 L681.6,525.3 L685.6,525.0 L686.3,523.1 L690.9,523.0 L692.2,524.9 L696.3,524.9 L697.7,523.1 L702.3,523.4 L702.8,525.3 L706.8,525.7 L709.0,524.0 L713.3,524.6 L713.0,526.6 L716.7,527.2 L719.6,525.8 L723.7,526.7 L722.5,528.6 L725.9,529.6 L729.4,528.4 L732.9,529.6 L731.0,531.3 L733.9,532.6 L737.8,531.6 L740.8,533.1 L738.1,534.7 L740.5,536.1 L744.7,535.5 L747.0,537.3 L743.7,538.6 L745.4,540.2 L749.8,539.9 L751.3,541.8 L747.5,542.8 L748.5,544.5 L752.9,544.6 L753.6,546.6 L749.4,547.3 L749.7,549.0 Z" stroke-width="1.8" fill="#fff"/>
<line x1="754.0" y1="531.5" x2="754.0" y2="549.5" stroke-width="1.5"/>
<line x1="753.8" y1="533.5" x2="753.8" y2="551.5" stroke-width="1.5"/>
<line x1="749.4" y1="533.9" x2="749.4" y2="551.9" stroke-width="1.5"/>
<line x1="748.9" y1="535.6" x2="748.9" y2="553.6" stroke-width="1.5"/>
<line x1="752.9" y1="536.4" x2="752.9" y2="554.4" stroke-width="1.5"/>
<line x1="751.9" y1="538.3" x2="751.9" y2="556.3" stroke-width="1.5"/>
<line x1="747.4" y1="538.3" x2="747.4" y2="556.3" stroke-width="1.5"/>
<line x1="746.1" y1="540.0" x2="746.1" y2="558.0" stroke-width="1.5"/>
<line x1="749.8" y1="541.1" x2="749.8" y2="559.1" stroke-width="1.5"/>
<line x1="748.0" y1="542.9" x2="748.0" y2="560.9" stroke-width="1.5"/>
<line x1="743.5" y1="542.6" x2="743.5" y2="560.6" stroke-width="1.5"/>
<line x1="741.6" y1="544.1" x2="741.6" y2="562.1" stroke-width="1.5"/>
<line x1="744.7" y1="545.5" x2="744.7" y2="563.5" stroke-width="1.5"/>
<line x1="742.2" y1="547.1" x2="742.2" y2="565.1" stroke-width="1.5"/>
<line x1="737.9" y1="546.4" x2="737.9" y2="564.4" stroke-width="1.5"/>
<line x1="735.3" y1="547.8" x2="735.3" y2="565.8" stroke-width="1.5"/>
<line x1="737.8" y1="549.4" x2="737.8" y2="567.4" stroke-width="1.5"/>
<line x1="734.6" y1="550.8" x2="734.6" y2="568.8" stroke-width="1.5"/>
<line x1="730.7" y1="549.8" x2="730.7" y2="567.8" stroke-width="1.5"/>
<line x1="727.6" y1="550.9" x2="727.6" y2="568.9" stroke-width="1.5"/>
<line x1="729.4" y1="552.6" x2="729.4" y2="570.6" stroke-width="1.5"/>
<line x1="725.6" y1="553.8" x2="725.6" y2="571.8" stroke-width="1.5"/>
<line x1="722.2" y1="552.5" x2="722.2" y2="570.5" stroke-width="1.5"/>
<line x1="718.7" y1="553.4" x2="718.7" y2="571.4" stroke-width="1.5"/>
<line x1="719.6" y1="555.2" x2="719.6" y2="573.2" stroke-width="1.5"/>
<line x1="715.5" y1="556.0" x2="715.5" y2="574.0" stroke-width="1.5"/>
<line x1="712.6" y1="554.5" x2="712.6" y2="572.5" stroke-width="1.5"/>
<line x1="708.8" y1="555.1" x2="708.8" y2="573.1" stroke-width="1.5"/>
<line x1="709.0" y1="557.0" x2="709.0" y2="575.0" stroke-width="1.5"/>
<line x1="704.5" y1="557.5" x2="704.5" y2="575.5" stroke-width="1.5"/>
<line x1="702.4" y1="555.7" x2="702.4" y2="573.7" stroke-width="1.5"/>
<line x1="698.4" y1="556.0" x2="698.4" y2="574.0" stroke-width="1.5"/>
<line x1="697.7" y1="557.9" x2="697.7" y2="575.9" stroke-width="1.5"/>
<line x1="693.1" y1="558.0" x2="693.1" y2="576.0" stroke-width="1.5"/>
<line x1="691.8" y1="556.1" x2="691.8" y2="574.1" stroke-width="1.5"/>
<line x1="687.7" y1="556.1" x2="687.7" y2="574.1" stroke-width="1.5"/>
<line x1="686.3" y1="557.9" x2="686.3" y2="575.9" stroke-width="1.5"/>
<line x1="681.7" y1="557.6" x2="681.7" y2="575.6" stroke-width="1.5"/>
<line x1="681.2" y1="555.7" x2="681.2" y2="573.7" stroke-width="1.5"/>
<line x1="677.2" y1="555.3" x2="677.2" y2="573.3" stroke-width="1.5"/>
<line x1="675.0" y1="557.0" x2="675.0" y2="575.0" stroke-width="1.5"/>
<line x1="670.7" y1="556.4" x2="670.7" y2="574.4" stroke-width="1.5"/>
<line x1="671.0" y1="554.4" x2="671.0" y2="572.4" stroke-width="1.5"/>
<line x1="667.3" y1="553.8" x2="667.3" y2="571.8" stroke-width="1.5"/>
<line x1="664.4" y1="555.2" x2="664.4" y2="573.2" stroke-width="1.5"/>
<line x1="660.3" y1="554.3" x2="660.3" y2="572.3" stroke-width="1.5"/>
<line x1="661.5" y1="552.4" x2="661.5" y2="570.4" stroke-width="1.5"/>
<line x1="658.1" y1="551.4" x2="658.1" y2="569.4" stroke-width="1.5"/>
<line x1="654.6" y1="552.6" x2="654.6" y2="570.6" stroke-width="1.5"/>
<line x1="651.1" y1="551.4" x2="651.1" y2="569.4" stroke-width="1.5"/>
<line x1="653.0" y1="549.7" x2="653.0" y2="567.7" stroke-width="1.5"/>
<line x1="650.1" y1="548.4" x2="650.1" y2="566.4" stroke-width="1.5"/>
<line x1="646.2" y1="549.4" x2="646.2" y2="567.4" stroke-width="1.5"/>
<line x1="643.2" y1="547.9" x2="643.2" y2="565.9" stroke-width="1.5"/>
<line x1="645.9" y1="546.3" x2="645.9" y2="564.3" stroke-width="1.5"/>
<line x1="643.5" y1="544.9" x2="643.5" y2="562.9" stroke-width="1.5"/>
<line x1="639.3" y1="545.5" x2="639.3" y2="563.5" stroke-width="1.5"/>
<line x1="637.0" y1="543.7" x2="637.0" y2="561.7" stroke-width="1.5"/>
<line x1="640.3" y1="542.4" x2="640.3" y2="560.4" stroke-width="1.5"/>
<line x1="638.6" y1="540.8" x2="638.6" y2="558.8" stroke-width="1.5"/>
<line x1="634.2" y1="541.1" x2="634.2" y2="559.1" stroke-width="1.5"/>
<line x1="632.7" y1="539.2" x2="632.7" y2="557.2" stroke-width="1.5"/>
<line x1="636.5" y1="538.2" x2="636.5" y2="556.2" stroke-width="1.5"/>
<line x1="635.5" y1="536.5" x2="635.5" y2="554.5" stroke-width="1.5"/>
<line x1="631.1" y1="536.4" x2="631.1" y2="554.4" stroke-width="1.5"/>
<line x1="630.4" y1="534.4" x2="630.4" y2="552.4" stroke-width="1.5"/>
<line x1="634.6" y1="533.7" x2="634.6" y2="551.7" stroke-width="1.5"/>
<line x1="634.3" y1="532.0" x2="634.3" y2="550.0" stroke-width="1.5"/>
<line x1="630.0" y1="531.5" x2="630.0" y2="549.5" stroke-width="1.5"/>
<line x1="749.7" y1="531.0" x2="749.7" y2="549.0" stroke-width="1.5"/>
<path d="M754.0,531.5 L753.8,533.5 L749.4,533.9 L748.9,535.6 L752.9,536.4 L751.9,538.3 L747.4,538.3 L746.1,540.0 L749.8,541.1 L748.0,542.9 L743.5,542.6 L741.6,544.1 L744.7,545.5 L742.2,547.1 L737.9,546.4 L735.3,547.8 L737.8,549.4 L734.6,550.8 L730.7,549.8 L727.6,550.9 L729.4,552.6 L725.6,553.8 L722.2,552.5 L718.7,553.4 L719.6,555.2 L715.5,556.0 L712.6,554.5 L708.8,555.1 L709.0,557.0 L704.5,557.5 L702.4,555.7 L698.4,556.0 L697.7,557.9 L693.1,558.0 L691.8,556.1 L687.7,556.1 L686.3,557.9 L681.7,557.6 L681.2,555.7 L677.2,555.3 L675.0,557.0 L670.7,556.4 L671.0,554.4 L667.3,553.8 L664.4,555.2 L660.3,554.3 L661.5,552.4 L658.1,551.4 L654.6,552.6 L651.1,551.4 L653.0,549.7 L650.1,548.4 L646.2,549.4 L643.2,547.9 L645.9,546.3 L643.5,544.9 L639.3,545.5 L637.0,543.7 L640.3,542.4 L638.6,540.8 L634.2,541.1 L632.7,539.2 L636.5,538.2 L635.5,536.5 L631.1,536.4 L630.4,534.4 L634.6,533.7 L634.3,532.0 L630.0,531.5 L630.2,529.5 L634.6,529.1 L635.1,527.4 L631.1,526.6 L632.1,524.7 L636.6,524.7 L637.9,523.0 L634.2,521.9 L636.0,520.1 L640.5,520.4 L642.4,518.9 L639.3,517.5 L641.8,515.9 L646.1,516.6 L648.7,515.2 L646.2,513.6 L649.4,512.2 L653.3,513.2 L656.4,512.1 L654.6,510.4 L658.4,509.2 L661.8,510.5 L665.3,509.6 L664.4,507.8 L668.5,507.0 L671.4,508.5 L675.2,507.9 L675.0,506.0 L679.5,505.5 L681.6,507.3 L685.6,507.0 L686.3,505.1 L690.9,505.0 L692.2,506.9 L696.3,506.9 L697.7,505.1 L702.3,505.4 L702.8,507.3 L706.8,507.7 L709.0,506.0 L713.3,506.6 L713.0,508.6 L716.7,509.2 L719.6,507.8 L723.7,508.7 L722.5,510.6 L725.9,511.6 L729.4,510.4 L732.9,511.6 L731.0,513.3 L733.9,514.6 L737.8,513.6 L740.8,515.1 L738.1,516.7 L740.5,518.1 L744.7,517.5 L747.0,519.3 L743.7,520.6 L745.4,522.2 L749.8,521.9 L751.3,523.8 L747.5,524.8 L748.5,526.5 L752.9,526.6 L753.6,528.6 L749.4,529.3 L749.7,531.0 Z" stroke-width="1.8" fill="#fff"/>
<ellipse cx="691.8" cy="535.3" rx="28.3" ry="14.3" stroke-width="1.7" fill="none"/>
<ellipse cx="691.6" cy="541.2" rx="21.8" ry="9.1" stroke-width="1.4" fill="none"/>
<ellipse cx="691.6" cy="542" rx="19.5" ry="7.8" stroke-width="1.2" fill="none"/>
<path d="M681.2,545.1 L688,538.5 L697,538 L703.3,543.2 L697,549.7 L688,549.7 Z M689.6,538.5 L689.6,549.7" stroke-width="2" fill="none" />
<path d="M612.7,563.6 L611.9,565.9 L607.6,566.0 L606.0,567.7 L609.1,569.1 L606.2,571.0 L602.2,570.1 L599.1,571.3 L600.4,573.2 L595.9,574.2 L593.2,572.6 L589.3,573.0 L588.6,575.0 L583.6,574.9 L582.8,572.9 L579.0,572.4 L576.3,574.0 L571.9,572.9 L573.3,570.9 L570.4,569.7 L566.4,570.5 L563.7,568.6 L566.8,567.2 L565.5,565.4 L561.2,565.3 L560.7,563.0 L564.9,562.4 L565.5,560.6 L561.8,559.6 L563.7,557.4 L568.0,557.8 L570.4,556.3 L568.1,554.6 L571.9,553.1 L575.4,554.4 L579.0,553.6 L578.7,551.6 L583.6,551.1 L585.3,552.9 L589.3,553.0 L591.1,551.2 L595.9,551.8 L595.6,553.8 L599.1,554.7 L602.5,553.5 L606.2,555.0 L603.9,556.8 L606.0,558.3 L610.3,557.9 L611.9,560.1 L608.2,561.2 L608.5,563.0 Z" stroke-width="1.8" fill="#fff"/>
<line x1="612.7" y1="545.6" x2="612.7" y2="563.6" stroke-width="1.5"/>
<line x1="611.9" y1="547.9" x2="611.9" y2="565.9" stroke-width="1.5"/>
<line x1="607.6" y1="548.0" x2="607.6" y2="566.0" stroke-width="1.5"/>
<line x1="606.0" y1="549.7" x2="606.0" y2="567.7" stroke-width="1.5"/>
<line x1="609.1" y1="551.1" x2="609.1" y2="569.1" stroke-width="1.5"/>
<line x1="606.2" y1="553.0" x2="606.2" y2="571.0" stroke-width="1.5"/>
<line x1="602.2" y1="552.1" x2="602.2" y2="570.1" stroke-width="1.5"/>
<line x1="599.1" y1="553.3" x2="599.1" y2="571.3" stroke-width="1.5"/>
<line x1="600.4" y1="555.2" x2="600.4" y2="573.2" stroke-width="1.5"/>
<line x1="595.9" y1="556.2" x2="595.9" y2="574.2" stroke-width="1.5"/>
<line x1="593.2" y1="554.6" x2="593.2" y2="572.6" stroke-width="1.5"/>
<line x1="589.3" y1="555.0" x2="589.3" y2="573.0" stroke-width="1.5"/>
<line x1="588.6" y1="557.0" x2="588.6" y2="575.0" stroke-width="1.5"/>
<line x1="583.6" y1="556.9" x2="583.6" y2="574.9" stroke-width="1.5"/>
<line x1="582.8" y1="554.9" x2="582.8" y2="572.9" stroke-width="1.5"/>
<line x1="579.0" y1="554.4" x2="579.0" y2="572.4" stroke-width="1.5"/>
<line x1="576.3" y1="556.0" x2="576.3" y2="574.0" stroke-width="1.5"/>
<line x1="571.9" y1="554.9" x2="571.9" y2="572.9" stroke-width="1.5"/>
<line x1="573.3" y1="552.9" x2="573.3" y2="570.9" stroke-width="1.5"/>
<line x1="570.4" y1="551.7" x2="570.4" y2="569.7" stroke-width="1.5"/>
<line x1="566.4" y1="552.5" x2="566.4" y2="570.5" stroke-width="1.5"/>
<line x1="563.7" y1="550.6" x2="563.7" y2="568.6" stroke-width="1.5"/>
<line x1="566.8" y1="549.2" x2="566.8" y2="567.2" stroke-width="1.5"/>
<line x1="565.5" y1="547.4" x2="565.5" y2="565.4" stroke-width="1.5"/>
<line x1="561.2" y1="547.3" x2="561.2" y2="565.3" stroke-width="1.5"/>
<line x1="560.7" y1="545.0" x2="560.7" y2="563.0" stroke-width="1.5"/>
<line x1="608.5" y1="545.0" x2="608.5" y2="563.0" stroke-width="1.5"/>
<path d="M612.7,545.6 L611.9,547.9 L607.6,548.0 L606.0,549.7 L609.1,551.1 L606.2,553.0 L602.2,552.1 L599.1,553.3 L600.4,555.2 L595.9,556.2 L593.2,554.6 L589.3,555.0 L588.6,557.0 L583.6,556.9 L582.8,554.9 L579.0,554.4 L576.3,556.0 L571.9,554.9 L573.3,552.9 L570.4,551.7 L566.4,552.5 L563.7,550.6 L566.8,549.2 L565.5,547.4 L561.2,547.3 L560.7,545.0 L564.9,544.4 L565.5,542.6 L561.8,541.6 L563.7,539.4 L568.0,539.8 L570.4,538.3 L568.1,536.6 L571.9,535.1 L575.4,536.4 L579.0,535.6 L578.7,533.6 L583.6,533.1 L585.3,534.9 L589.3,535.0 L591.1,533.2 L595.9,533.8 L595.6,535.8 L599.1,536.7 L602.5,535.5 L606.2,537.0 L603.9,538.8 L606.0,540.3 L610.3,539.9 L611.9,542.1 L608.2,543.2 L608.5,545.0 Z" stroke-width="1.8" fill="#fff"/>
<path d="M580,547 L585,542.5 L591,543 L593.5,546 L590,550 L583,550.5 Z M587,542.5 L587,550.5" stroke-width="1.8" fill="none" />
<ellipse cx="585.7" cy="491.2" rx="10" ry="4" stroke-width="2.2" fill="none"/>
<ellipse cx="585.7" cy="491.2" rx="5" ry="1.6" stroke-width="1.2" fill="none"/>
<path d="M683.8,608 L683.8,624 Q696,630 708,624 L708,608" stroke-width="1.9" fill="none" />
<path d="M680,601.5 L680,606 Q695,613 710,606 L710,601.5" stroke-width="1.9" fill="none" />
<ellipse cx="695" cy="601.5" rx="15" ry="5.5" stroke-width="2" fill="none"/>
<ellipse cx="695" cy="601.5" rx="9" ry="3" stroke-width="1.8" fill="none"/>
<path d="M839.8,693.7 L810.8,686.3 Q800,688 794,697 Q787,710 786.6,722.7 Q787,736 794,741.2 L822.2,750" stroke-width="2" fill="none" />
<ellipse cx="835.5" cy="722.8" rx="15.5" ry="28.5" stroke-width="2" fill="none" transform="rotate(22 835.5 722.8)"/>
<ellipse cx="835.5" cy="722.8" rx="13.8" ry="26.8" stroke-width="1.2" fill="none" transform="rotate(22 835.5 722.8)"/>
<path d="M835.4,699 Q834,722 821,738" stroke-width="2.6" fill="none" />
<path d="M922.7,718.1 L898.3,709.8 Q890,711 883.7,719.5 Q876,730 873.9,741 Q872,752 872.9,760.5 Q875,767 879.8,769.3 L892.5,772.2" stroke-width="2" fill="none" />
<path d="M923.7,720.5 Q925,716.5 932,717.5 Q939,719 938,725 Q936,729 930,728.5 Q925,728 924.7,729.3 L924,722" stroke-width="2" fill="none" />
<path d="M922.2,741 Q922,738 926,735 L969,713 Q974,711 975,716 L974,774 Q974,779 970,781 L929,806 Q924.5,809 923.5,803 Z" stroke-width="2.2" fill="none" />
<path d="M926,744 L970,719 M929,746 L929,803 M926,744 L926,802" stroke-width="1.4" fill="none" />
<path d="M931,744.6 L971.7,719.2 L971.7,777.6 L931,803 Z" stroke-width="1.5" fill="none" />
<ellipse cx="954" cy="761" rx="14" ry="21.6" stroke-width="2" fill="none" transform="rotate(18 954 761)"/>
<ellipse cx="959" cy="763.6" rx="5.7" ry="8.2" stroke-width="1.8" fill="none" transform="rotate(18 959 763.6)"/>
<ellipse cx="936" cy="746" rx="2.5" ry="3" stroke-width="1.5" fill="none"/>
<ellipse cx="968" cy="726" rx="2.5" ry="3" stroke-width="1.5" fill="none"/>
<ellipse cx="968" cy="773" rx="2.5" ry="2.5" stroke-width="1.5" fill="none"/>
<ellipse cx="938" cy="793" rx="2.8" ry="3" stroke-width="1.5" fill="none"/>
<path d="M943,741 L945,750 M936,786 Q941,784 943,790" stroke-width="1.5" fill="none" />
<ellipse cx="977" cy="729" rx="2.5" ry="3" stroke-width="2.5" fill="none"/>
<path d="M899.3,770.3 L899.3,753.7 Q903,748 909,747.8 L919.8,747.8 M899.3,755 Q906,751 919.8,752" stroke-width="2" fill="none" />
<path d="M909,782 L918.8,787.9 M912,785 L919,784" stroke-width="1.8" fill="none" />
<path d="M903.2,764.4 L912,759.6 L918.8,766.4 L917.8,777.1 L909,781 L902.2,774.2 Z M906,766 L914,762 L917,768 L914,775 L907,777 L904,772 Z" stroke-width="1.8" fill="none" />
<path d="M891.5,775.2 L905.1,768.3 M893.4,788.8 L909,781 M891.5,775.2 Q886,777 887.6,782.5 Q889,788 893.4,788.8" stroke-width="2" fill="none" />
<path d="M893.0,775.0 Q891.5,782.0 894.5,788.0" stroke-width="1.4" fill="none" />
<path d="M895.3,773.8 Q893.8,780.8 896.8,786.8" stroke-width="1.4" fill="none" />
<path d="M897.7,772.7 Q896.2,779.7 899.2,785.7" stroke-width="1.4" fill="none" />
<path d="M900.0,771.5 Q898.5,778.5 901.5,784.5" stroke-width="1.4" fill="none" />
<path d="M902.3,770.3 Q900.8,777.3 903.8,783.3" stroke-width="1.4" fill="none" />
<path d="M904.7,769.2 Q903.2,776.2 906.2,782.2" stroke-width="1.4" fill="none" />
<path d="M907.0,768.0 Q905.5,775.0 908.5,781.0" stroke-width="1.4" fill="none" />
<path d="M1010.8,697 Q1015,691 1019,691.4 L1026,692.6 Q1027.5,694 1027.2,697 L1027.2,724.9 Q1030,727 1029.6,730 Q1029,736 1019,736.5 Q1009,736 1008.5,730 Q1009,727 1011.4,725 L1011.4,716" stroke-width="2" fill="none" />
<path d="M1011.4,716 Q1004,713 1002.6,708 Q1002,701 1008,700 Q1014,700 1016,708 Q1018,714.5 1021,714.5 Q1026,714 1026,710" stroke-width="2" fill="none" />
<path d="M1005,708 Q1005,703 1009,703 Q1012,704 1012.6,712" stroke-width="1.4" fill="none" />
<path d="M1011,697 Q1016,700 1019,706 M1021,692 Q1024,695 1025,700" stroke-width="2.2" fill="none" />
<path d="M1011.4,725 Q1019,731 1027.2,725" stroke-width="1.6" fill="none" />
<ellipse cx="1019" cy="732.5" rx="7" ry="3" stroke-width="1.2" fill="none"/>
<path d="M802.7,768.2 Q812,764 826.3,767 L826.3,794 L826.3,839 Q816,841 806.1,837.8 L803,815 Q800,808 800.5,801.9 Q800,790 802,785 Z" stroke-width="2" fill="none" />
<path d="M801,794 L826,791 M803,815.4 L826,815.4" stroke-width="1.4" fill="none" />
<ellipse cx="815" cy="777.2" rx="5.2" ry="5.2" stroke-width="1.8" fill="none" transform="rotate(20 815 777.2)"/>
<ellipse cx="815" cy="827.7" rx="4.2" ry="5" stroke-width="1.8" fill="none" transform="rotate(10 815 827.7)"/>
<ellipse cx="775.3" cy="855.3" rx="9" ry="10" stroke-width="1.8" fill="none" transform="rotate(-20 775.3 855.3)"/>
<path d="M771,851 L775,849 L779,851 L780,856 L778,860 L773,861 L770,857 Z" stroke-width="1.4" fill="none" />
<path d="M738,870 L743,866 L750,867 L754,873 L752,881 L746,885 L739,883 L736,876 Z" stroke-width="1.8" fill="none" />
<ellipse cx="745.5" cy="876" rx="5" ry="5.5" stroke-width="1.6" fill="none" transform="rotate(-15 745.5 876)"/>
<path d="M738,871 L737,879" stroke-width="1.2" fill="none" />
<path d="M885,919 Q889,916 893,919 L893,933 L885,933 Z" stroke-width="1.8" fill="none" />
<line x1="885" y1="922" x2="893" y2="921" stroke-width="1.2"/>
<line x1="885" y1="925" x2="893" y2="924" stroke-width="1.2"/>
<line x1="885" y1="928" x2="893" y2="927" stroke-width="1.2"/>
<line x1="885" y1="931" x2="893" y2="930" stroke-width="1.2"/>
<path d="M881,933 Q889,928 898,933 L898,941 Q889,947 881,941 Z M886,934 L886,944 M893,934 L893,944 M881,937 Q889,941 898,937" stroke-width="1.8" fill="none" />
<path d="M927.5,834.8 L936.8,828.3 L947,827.4 Q953,829 956.3,833 L948.9,841.3 M931.2,839.5 L942.4,842.3" stroke-width="1.9" fill="none" />
<ellipse cx="944.2" cy="832.5" rx="4.8" ry="2.6" stroke-width="2" fill="none"/>
<path d="M947,842.3 L946,864.5 L941.4,885 L935,886.8 Q931,888 930.3,892.4 L927.5,901.6 L919.2,908.1 L913.6,906.3" stroke-width="1.9" fill="none" />
<path d="M927.5,834.8 L925.7,861.7 L920.1,880.3 L922.9,885 L918.2,898.9 L912.7,900.7 Q909,898 909,894.2 L908,872" stroke-width="1.9" fill="none" />
<path d="M877.4,872.9 L886.7,865.5 L907.1,872 L897.8,879.4 L888.6,879.4 Z" stroke-width="1.9" fill="none" />
<ellipse cx="890.4" cy="873.3" rx="5.5" ry="3" stroke-width="2" fill="none"/>
<line x1="890.4" y1="870.5" x2="890.4" y2="876" stroke-width="1.2"/>
<path d="M888.6,879.4 L890.4,892.4 Q893,897 896.9,898.9 L909.9,903.5 L918.2,908.1" stroke-width="1.9" fill="none" />
<path d="M922,890.5 L927.5,893.3 M910,903 L916,905" stroke-width="1.5" fill="none" />
<ellipse cx="1039.6" cy="872" rx="5" ry="2.8" stroke-width="2.6" fill="none" transform="rotate(-25 1039.6 872)"/>
<path d="M1044,898 L1049,895 L1056,896 L1059,901 L1057,906 L1050,907 L1045,905 Z" stroke-width="1.7" fill="none" />
<ellipse cx="1051.3" cy="901" rx="4" ry="2.5" stroke-width="1.3" fill="none"/>
<path d="M482.1,692.3 L531.4,713.3 M480.5,703.6 L527.4,724.6 M482.1,692.3 Q476,694 477.7,699 Q478,702 480.5,703.6" stroke-width="2" fill="none" />
<path d="M482.1,692.3 L511,704.6 M480.5,703.6 L509,716.2" stroke-width="2.6" fill="none" />
<path d="M485.5,693.9 Q482.8,699.1 484.3,704.4" stroke-width="1.7" fill="none" />
<path d="M488.5,695.2 Q485.8,700.4 487.3,705.7" stroke-width="1.7" fill="none" />
<path d="M491.5,696.5 Q488.8,701.8 490.3,707.1" stroke-width="1.7" fill="none" />
<path d="M494.5,697.7 Q491.8,703.1 493.3,708.4" stroke-width="1.7" fill="none" />
<path d="M497.5,699.0 Q494.8,704.4 496.3,709.7" stroke-width="1.7" fill="none" />
<path d="M500.5,700.3 Q497.8,705.7 499.3,711.1" stroke-width="1.7" fill="none" />
<path d="M503.5,701.6 Q500.8,707.0 502.3,712.4" stroke-width="1.7" fill="none" />
<path d="M506.5,702.9 Q503.8,708.3 505.3,713.8" stroke-width="1.7" fill="none" />
<path d="M509.5,704.1 Q506.8,709.6 508.3,715.1" stroke-width="1.7" fill="none" />
<path d="M511.5,705.5 Q509,710 509.5,716" stroke-width="1.6" fill="none" />
<path d="M534.6,712.5 L543.5,712.5 L550.8,722.2 L547.6,730.2 L536.2,734.3 L529,728.6 L528.2,720.5 Z" stroke-width="2" fill="none" />
<path d="M537,714 L533,725.4 L535.4,733.5 M533,725.4 L529,728" stroke-width="1.5" fill="none" />
<path d="M471.7,746.7 L492.7,753.9 M469.3,753.9 L488.5,762 M471.7,746.7 Q467,747 468.5,751 Q468,753 469.3,753.9" stroke-width="1.8" fill="none" />
<path d="M472.0,747.3 Q470.2,750.5 471.3,754.0" stroke-width="1.4" fill="none" />
<path d="M474.8,748.3 Q473.0,751.5 474.1,755.0" stroke-width="1.4" fill="none" />
<path d="M477.7,749.3 Q475.9,752.5 477.0,756.0" stroke-width="1.4" fill="none" />
<path d="M480.5,750.3 Q478.7,753.5 479.8,757.0" stroke-width="1.4" fill="none" />
<path d="M483.3,751.3 Q481.5,754.5 482.6,758.0" stroke-width="1.4" fill="none" />
<path d="M486.2,752.3 Q484.4,755.5 485.5,759.0" stroke-width="1.4" fill="none" />
<path d="M489.0,753.3 Q487.2,756.5 488.3,760.0" stroke-width="1.4" fill="none" />
<path d="M492.7,753.5 L499.2,753.9 L500.8,758.8 L497.6,767.7 L491.1,768.1 L487.9,764.4 L488.5,757 Z M492.7,754 L491,762 L491.1,768" stroke-width="1.7" fill="none" />
<ellipse cx="437" cy="733.3" rx="6.5" ry="10" stroke-width="2.2" fill="none" transform="rotate(30 437 733.3)"/>
<ellipse cx="437.4" cy="734.1" rx="2.5" ry="4.5" stroke-width="1.6" fill="none" transform="rotate(30 437.4 734.1)"/>
<path d="M103,794 L103,758 Q104,753.5 108,753.5 Q112,753.5 112.4,758 L112.4,794" stroke-width="1.8" fill="none" />
<path d="M103.5,757.0 Q108,759.0 112,757.0" stroke-width="1.5" fill="none" />
<path d="M103.5,760.8 Q108,762.8 112,760.8" stroke-width="1.5" fill="none" />
<path d="M103.5,764.6 Q108,766.6 112,764.6" stroke-width="1.5" fill="none" />
<path d="M103.5,768.4 Q108,770.4 112,768.4" stroke-width="1.5" fill="none" />
<path d="M103.5,772.2 Q108,774.2 112,772.2" stroke-width="1.5" fill="none" />
<path d="M103.5,776.0 Q108,778.0 112,776.0" stroke-width="1.5" fill="none" />
<path d="M103.5,779.8 Q108,781.8 112,779.8" stroke-width="1.5" fill="none" />
<path d="M103.5,783.6 Q108,785.6 112,783.6" stroke-width="1.5" fill="none" />
<path d="M103.5,787.4 Q108,789.4 112,787.4" stroke-width="1.5" fill="none" />
<path d="M103.5,791.2 Q108,793.2 112,791.2" stroke-width="1.5" fill="none" />
<path d="M103.6,794 L103.8,932 M112.4,794 L112.2,932" stroke-width="1.6" fill="none" />
<path d="M101,935 L104,931 L113,931 L116,935 L115,940 L112,942 L104,942 L101,940 Z M104,932 Q108,936 113,932" stroke-width="1.8" fill="none" />
<ellipse cx="319.9" cy="769" rx="12" ry="9" stroke-width="2" fill="none" transform="rotate(-10 319.9 769)"/>
<ellipse cx="319.9" cy="769" rx="6.5" ry="4.5" stroke-width="1.6" fill="none" transform="rotate(-10 319.9 769)"/>
<ellipse cx="329.5" cy="799.8" rx="9.6" ry="9.2" stroke-width="2" fill="none"/>
<path d="M321,795 Q329,789 338,795 L338.5,797.5 Q329,792 320.5,797.5 Z" stroke-width="1" fill="#000" />
<path d="M322.5,798.5 Q329,795.5 336.5,798.5" stroke-width="1.2" fill="none" />
<ellipse cx="329" cy="803" rx="5" ry="3.2" stroke-width="2" fill="none"/>
<ellipse cx="329" cy="803" rx="2" ry="1.2" stroke-width="1" fill="none"/>
<ellipse cx="338.5" cy="833.6" rx="12" ry="9.5" stroke-width="2" fill="none" transform="rotate(-10 338.5 833.6)"/>
<ellipse cx="338.5" cy="833.6" rx="6" ry="4.5" stroke-width="1.6" fill="none" transform="rotate(-10 338.5 833.6)"/>
<path d="M337,858 L345,856 L354,857 L358,862 L355,868 L346,871 L338,869 L336,863 Z" stroke-width="1.7" fill="none" />
<ellipse cx="347" cy="864.5" rx="5" ry="2.8" stroke-width="1.4" fill="none"/>
<path d="M340,859 L341,864 M352,858 L354,864" stroke-width="1.3" fill="none" />
<path d="M243,676 Q250,694 296,696.5 Q340,695 352,670" stroke-width="1.3" fill="none" />
</g></svg></body></html>
